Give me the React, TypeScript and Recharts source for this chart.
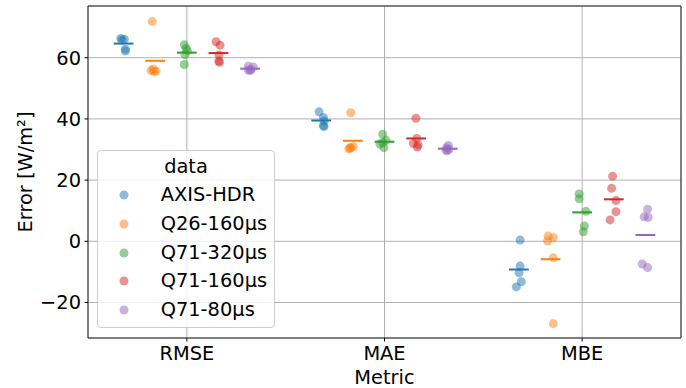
import React from "react";
import {
  ScatterChart,
  Scatter,
  XAxis,
  YAxis,
  CartesianGrid,
  ReferenceLine,
  ReferenceArea,
  Legend,
  Label,
} from "recharts";

const FONT = "DejaVu Sans";
const FONT_SIZE = 19.4;

const metrics = ["RMSE", "MAE", "MBE"];
const hueNames = ["AXIS-HDR", "Q26-160μs", "Q71-320μs", "Q71-160μs", "Q71-80μs"];
const hueColors = ["#1f77b4", "#ff7f0e", "#2ca02c", "#d62728", "#9467bd"];

// 5 runs per metric, in order RMSE, MAE, MBE
const axisHdrValues = [66.3, 66.0, 65.8, 62.8, 62.2, 42.3, 40.5, 39.3, 37.8, 37.5, 0.4, -8.1, -10.3, -13.2, -14.9];
const q26_160Values = [71.8, 56.3, 55.8, 55.5, 55.6, 42.0, 31.0, 30.5, 30.2, 30.6, 1.7, 1.2, 0.1, -5.4, -26.9];
const q71_320Values = [64.2, 63.0, 62.3, 61.0, 57.8, 35.0, 33.0, 32.3, 31.8, 30.6, 15.5, 13.9, 9.8, 5.0, 3.1];
const q71_160Values = [65.2, 64.1, 60.9, 58.9, 58.5, 40.2, 33.6, 32.0, 31.5, 30.8, 21.3, 17.3, 13.3, 9.7, 7.0];
const q71_80Values = [57.2, 57.0, 56.0, 55.8, 56.1, 31.3, 30.6, 30.0, 29.6, 29.8, 10.5, 8.0, 7.8, -7.4, -8.6];

// strip-plot jitter (category units)
const axisHdrJitter = [-0.014, 0.004, -0.008, 0.009, 0.009, -0.011, 0.011, 0.014, 0.011, 0.014, 0.006, 0.006, 0.001, 0.012, -0.013];
const q26_160Jitter = [-0.015, -0.01, -0.021, -0.006, 0.004, -0.011, 0.002, -0.015, -0.02, -0.01, -0.012, 0.014, -0.015, 0.014, 0.014];
const q71_320Jitter = [-0.013, -0.004, 0.003, -0.009, -0.013, -0.009, 0.008, -0.008, -0.023, -0.003, -0.015, -0.015, 0.019, 0.011, 0.006];
const q71_160Jitter = [-0.012, 0.008, 0.003, 0.002, 0.005, -0.001, 0.003, -0.014, 0.01, 0.006, -0.006, -0.011, 0.011, 0.011, -0.019];
const q71_80Jitter = [-0.009, 0.016, -0.009, 0, 0.005, 0.003, -0.006, 0.006, -0.003, -0.009, 0.011, -0.006, 0.014, -0.016, 0.011];

const yTicks = [-20, 0, 20, 40, 60];
const yDomain = [-31.6, 76.9];
const xDomain = [-0.5, 2.5];

const hueValues = [axisHdrValues, q26_160Values, q71_320Values, q71_160Values, q71_80Values];
const hueJitter = [axisHdrJitter, q26_160Jitter, q71_320Jitter, q71_160Jitter, q71_80Jitter];

const DODGE = 0.16;
const MEAN_HALF = 0.05;
const RUNS = 5;

const series = hueValues.map((vals, h) =>
  vals.map((v, k) => ({
    x: Math.floor(k / RUNS) + (h - 2) * DODGE + hueJitter[h][k],
    y: v,
  }))
);

const means = hueValues.flatMap((vals, h) =>
  metrics.map((_, m) => {
    const slice = vals.slice(m * RUNS, m * RUNS + RUNS);
    const mean = slice.reduce((s, v) => s + v, 0) / slice.length;
    const cx = m + (h - 2) * DODGE;
    return { h, m, mean, x1: cx - MEAN_HALF, x2: cx + MEAN_HALF };
  })
);

const fmtY = (v: number) => (v < 0 ? `\u2212${Math.abs(v)}` : `${v}`);

function LegendBox() {
  const rowH = 28;
  return (
    <div
      style={{
        position: "relative",
        width: 178,
        height: 178,
        boxSizing: "border-box",
        border: "1px solid #cccccc",
        borderRadius: 4,
        background: "rgba(255,255,255,0.8)",
        fontFamily: FONT,
        fontSize: FONT_SIZE,
        color: "#000",
      }}
    >
      <div
        style={{
          position: "absolute",
          left: 0,
          right: 0,
          top: 15.7 - rowH / 2,
          height: rowH,
          lineHeight: `${rowH}px`,
          textAlign: "center",
        }}
      >
        data
      </div>
      {hueNames.map((name, i) => {
        const cy = 44 + i * 28.75;
        return (
          <div key={name}>
            <svg
              width={12}
              height={12}
              style={{ position: "absolute", left: 26.3 - 6, top: cy - 6 }}
            >
              <circle cx={6} cy={6} r={4.5} fill={hueColors[i]} fillOpacity={0.5} />
            </svg>
            <div
              style={{
                position: "absolute",
                left: 62.7,
                top: cy - rowH / 2,
                height: rowH,
                lineHeight: `${rowH}px`,
                whiteSpace: "nowrap",
              }}
            >
              {name}
            </div>
          </div>
        );
      })}
    </div>
  );
}

export default function App() {
  const tickStyle = { fill: "#000", fontSize: FONT_SIZE, fontFamily: FONT };
  return (
    <div style={{ position: "absolute", left: 0, top: 0, fontFamily: FONT }}>
      <ScatterChart width={686} height={388} margin={{ top: 6, right: 5, bottom: 0, left: 0 }}>
        <CartesianGrid stroke="#b0b0b0" strokeWidth={1} />
        <XAxis
          dataKey="x"
          type="number"
          domain={xDomain}
          ticks={[0, 1, 2]}
          interval={0}
          allowDataOverflow
          tickFormatter={(v: number) => metrics[v] ?? ""}
          height={50}
          tick={tickStyle}
          tickSize={3.5}
          tickMargin={5}
          tickLine={{ stroke: "#000" }}
          axisLine={false}
        >
          <Label
            value="Metric"
            position="insideBottom"
            offset={4}
            style={{ fill: "#000", fontSize: FONT_SIZE, fontFamily: FONT }}
          />
        </XAxis>
        <YAxis
          dataKey="y"
          type="number"
          domain={yDomain}
          ticks={yTicks}
          interval={0}
          allowDataOverflow
          tickFormatter={fmtY}
          width={88}
          tick={tickStyle}
          tickSize={3.5}
          tickMargin={3.5}
          tickLine={{ stroke: "#000" }}
          axisLine={false}
        >
          <Label
            value="Error [W/m²]"
            angle={-90}
            position="insideLeft"
            offset={25}
            style={{ fill: "#000", fontSize: FONT_SIZE, fontFamily: FONT, textAnchor: "middle" }}
          />
        </YAxis>
        {series.map((pts, h) => (
          <Scatter
            key={hueNames[h]}
            name={hueNames[h]}
            data={pts}
            isAnimationActive={false}
            shape={(p: any) => (
              <circle cx={p.cx} cy={p.cy} r={4.5} fill={hueColors[h]} fillOpacity={0.5} />
            )}
          />
        ))}
        {means.map((d) => (
          <ReferenceLine
            key={`${d.h}-${d.m}`}
            segment={[
              { x: d.x1, y: d.mean },
              { x: d.x2, y: d.mean },
            ]}
            stroke={hueColors[d.h]}
            strokeWidth={2}
          />
        ))}
        <ReferenceArea
          x1={xDomain[0]}
          x2={xDomain[1]}
          y1={yDomain[0]}
          y2={yDomain[1]}
          fill="none"
          stroke="#262626"
          strokeWidth={1}
        />
        <Legend
          layout="vertical"
          align="center"
          verticalAlign="middle"
          wrapperStyle={{ left: 97, top: 150, width: 178, height: 178 }}
          content={() => <LegendBox />}
        />
      </ScatterChart>
    </div>
  );
}
